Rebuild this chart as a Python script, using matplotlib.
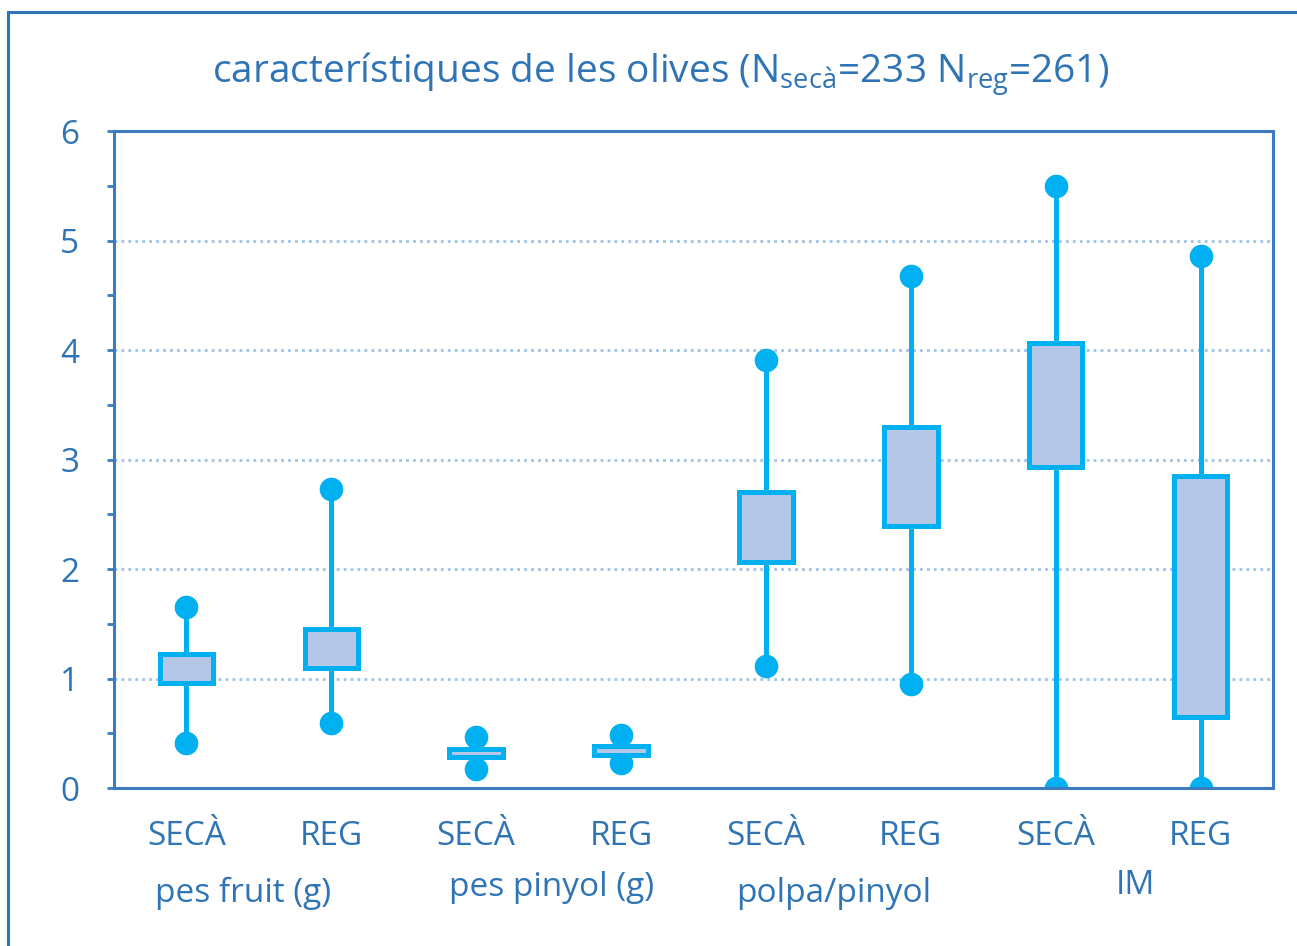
import matplotlib
matplotlib.use('Agg')
import matplotlib.pyplot as plt
from matplotlib.patches import Rectangle
from matplotlib.ticker import MultipleLocator

plt.rcParams['font.family'] = ['Open Sans', 'DejaVu Sans']

# data
categories = ['SECÀ', 'REG', 'SECÀ', 'REG', 'SECÀ', 'REG', 'SECÀ', 'REG']
whis_low = [0.41, 0.59, 0.17, 0.23, 1.11, 0.95, 0.0, 0.0]
q1 = [0.96, 1.10, 0.28, 0.30, 2.06, 2.39, 2.93, 0.65]
q3 = [1.22, 1.45, 0.36, 0.38, 2.70, 3.30, 4.06, 2.85]
whis_high = [1.65, 2.73, 0.47, 0.48, 3.91, 4.68, 5.50, 4.86]
groups = ['pes fruit (g)', 'pes pinyol (g)', 'polpa/pinyol', 'IM']
group_x = [0.89, 3.02, 4.97, 7.05]
group_y = [-0.160, -0.152, -0.160, -0.148]

line_c = '#00B0F0'
fill_c = '#B4C7E7'
axis_c = '#3A7CC0'
text_c = '#2F74B5'
grid_c = '#9DC3E6'

fig = plt.figure(figsize=(12.97, 9.46), dpi=100)
ax = fig.add_axes([0.0879, 0.167, 0.8936, 0.6945])

pos = [i + 0.5 for i in range(len(categories))]
stats = []
for i in range(len(categories)):
    stats.append({'whislo': whis_low[i], 'q1': q1[i], 'med': q1[i],
                  'q3': q3[i], 'whishi': whis_high[i]})

ax.bxp(stats, positions=pos, widths=0.37, patch_artist=True, showcaps=False,
       showfliers=False,
       boxprops=dict(facecolor=fill_c, edgecolor=line_c, linewidth=3.6),
       whiskerprops=dict(color=line_c, linewidth=3.6),
       medianprops=dict(visible=False), zorder=3)
ax.plot(pos, whis_high, 'o', color=line_c, markersize=16, zorder=2)
ax.plot(pos, whis_low, 'o', color=line_c, markersize=16, zorder=2)

ax.set_xlim(0, 8)
ax.set_ylim(0, 6)
ax.yaxis.set_major_locator(MultipleLocator(1))
ax.yaxis.set_minor_locator(MultipleLocator(0.5))
ax.grid(axis='y', which='major', linestyle=(0, (1, 1.5)), color=grid_c, linewidth=2)
ax.set_axisbelow(True)

for s in ax.spines.values():
    s.set_color(axis_c)
    s.set_linewidth(2.2)
    s.set_zorder(5)

ax.set_xticks(pos)
ax.set_xticklabels(categories)
ax.tick_params(axis='x', length=0, pad=23, labelsize=24, labelcolor=text_c)
ax.tick_params(axis='y', which='both', direction='out', length=5, width=2,
               color=axis_c, labelsize=24, labelcolor=text_c, pad=20)

for name, gx, gy in zip(groups, group_x, group_y):
    ax.text(gx, gy, name, transform=ax.get_xaxis_transform(), ha='center',
            va='center', fontsize=24, color=text_c)

fig.text(0.509, 0.922,
         'característiques de les olives (N$_\\mathregular{secà}$=233 N$_\\mathregular{reg}$=261)',
         ha='center', va='center', fontsize=28, color=text_c)

fig.patches.append(Rectangle((0.0065, -0.05), 1.2, 1.037, transform=fig.transFigure,
                             fill=False, edgecolor='#2E75B6', linewidth=2.2))

fig.savefig('out.png', dpi=100)
